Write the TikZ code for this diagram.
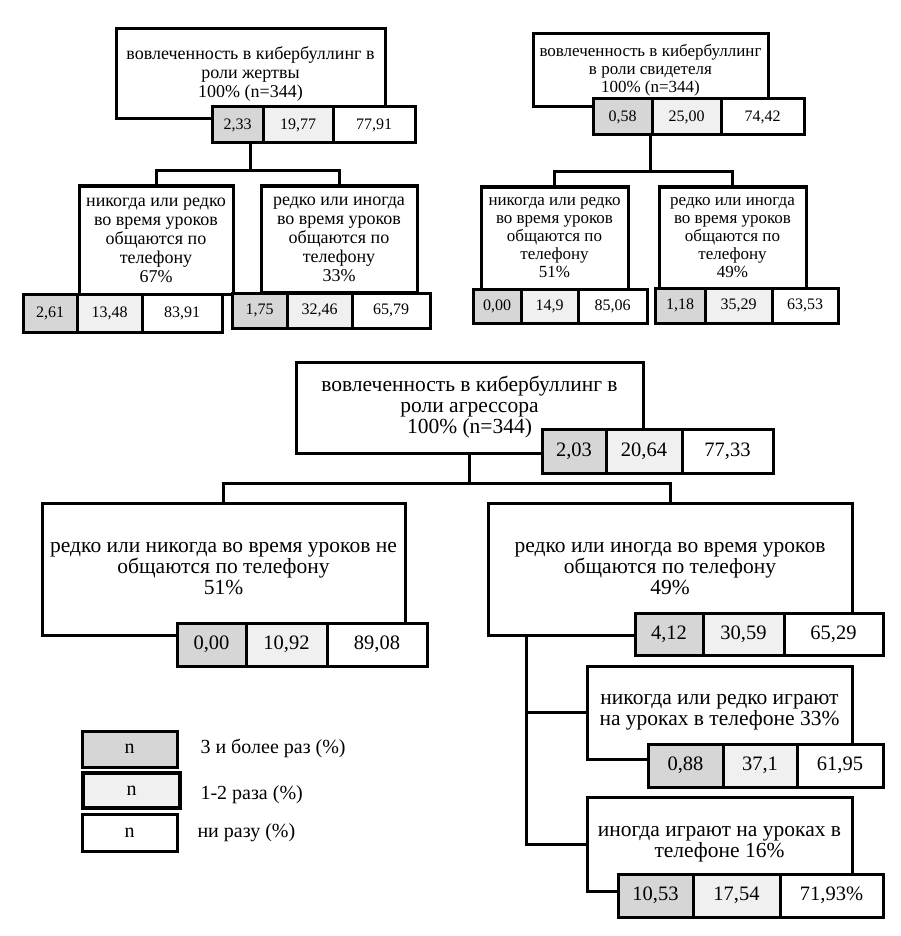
\documentclass[tikz,border=0pt]{standalone}
\usepackage{fontspec}
\setmainfont{Liberation Serif}
\usetikzlibrary{positioning}

\newcommand{\victimfont}{\fontsize{18}{19}\selectfont}
\newcommand{\witnessfont}{\fontsize{17}{18}\selectfont}
\newcommand{\aggrfont}{\fontsize{21.5}{21}\selectfont}
\newcommand{\smallnum}{\fontsize{16}{18}\selectfont}
\newcommand{\bignum}{\fontsize{20.5}{22}\selectfont}
\newcommand{\legendfont}{\fontsize{20}{22}\selectfont}

\begin{document}
\begin{tikzpicture}[
  x=1pt, y=-1pt,
  box/.style={draw, line width=3pt, fill=white, align=center, inner sep=1pt, outer sep=0pt},
  cell/.style={draw, line width=3pt, inner sep=0pt, outer sep=0pt},
  hi/.style={cell, fill=gray!32},
  mid/.style={cell, fill=gray!12},
  lo/.style={cell, fill=white},
  link/.style={line width=3pt}
]
\useasboundingbox (0,0) rectangle (900,936);

% victim tree
\node[box, font=\victimfont, anchor=north west, minimum width=269pt, minimum height=90pt] (vict) at (116,29)
  {вовлеченность в кибербуллинг в\\роли жертвы\\100\% (n=344)};
\node[hi, font=\smallnum, anchor=north west, minimum width=51pt, minimum height=36pt] (v0a) at (212,107) {2,33};
\node[mid, font=\smallnum, minimum width=70pt, minimum height=36pt, right=0pt of v0a] (v0b) {19,77};
\node[lo, font=\smallnum, minimum width=82pt, minimum height=36pt, right=0pt of v0b] (v0c) {77,91};

\node[box, font=\victimfont, anchor=north west, minimum width=154pt, minimum height=108pt] (v1) at (79,186)
  {никогда или редко\\во время уроков\\общаются по\\телефону\\67\%};
\node[box, font=\victimfont, anchor=north west, minimum width=156pt, minimum height=106pt] (v2) at (261,186)
  {редко или иногда\\во время уроков\\общаются по\\телефону\\33\%};
\node[hi, font=\smallnum, anchor=north west, minimum width=54pt, minimum height=38pt] (v1a) at (23,294) {2,61};
\node[mid, font=\smallnum, minimum width=65pt, minimum height=38pt, right=0pt of v1a] (v1b) {13,48};
\node[lo, font=\smallnum, minimum width=80pt, minimum height=38pt, right=0pt of v1b] (v1c) {83,91};
\node[hi, font=\smallnum, anchor=north west, minimum width=55pt, minimum height=35pt] (v2a) at (232,293) {1,75};
\node[mid, font=\smallnum, minimum width=65pt, minimum height=35pt, right=0pt of v2a] (v2b) {32,46};
\node[lo, font=\smallnum, minimum width=78pt, minimum height=35pt, right=0pt of v2b] (v2c) {65,79};

\draw[link] (v0a.south -| vict.south) -- ++(0,28) coordinate (vj) -| (v1.north);
\draw[link] (vj) -| (v2.north);

% witness tree
\node[box, font=\witnessfont, anchor=north west, minimum width=235pt, minimum height=73pt] (wit) at (533,34)
  {вовлеченность в кибербуллинг\\в роли свидетеля\\100\% (n=344)};
\node[hi, font=\smallnum, anchor=north west, minimum width=59pt, minimum height=36pt] (w0a) at (593,99) {0,58};
\node[mid, font=\smallnum, minimum width=69pt, minimum height=36pt, right=0pt of w0a] (w0b) {25,00};
\node[lo, font=\smallnum, minimum width=83pt, minimum height=36pt, right=0pt of w0b] (w0c) {74,42};

\node[box, font=\witnessfont, anchor=north west, minimum width=147pt, minimum height=102pt] (w1) at (481,187)
  {никогда или редко\\во время уроков\\общаются по\\телефону\\51\%};
\node[box, font=\witnessfont, anchor=north west, minimum width=147pt, minimum height=101pt] (w2) at (659,187)
  {редко или иногда\\во время уроков\\общаются по\\телефону\\49\%};
\node[hi, font=\smallnum, anchor=north west, minimum width=48pt, minimum height=34pt] (w1a) at (473,289) {0,00};
\node[mid, font=\smallnum, minimum width=57pt, minimum height=34pt, right=0pt of w1a] (w1b) {14,9};
\node[lo, font=\smallnum, minimum width=69pt, minimum height=34pt, right=0pt of w1b] (w1c) {85,06};
\node[hi, font=\smallnum, anchor=north west, minimum width=50pt, minimum height=35pt] (w2a) at (655,288) {1,18};
\node[mid, font=\smallnum, minimum width=67pt, minimum height=35pt, right=0pt of w2a] (w2b) {35,29};
\node[lo, font=\smallnum, minimum width=66pt, minimum height=35pt, right=0pt of w2b] (w2c) {63,53};

\draw[link] (w0a.south -| wit.south) -- ++(0,37) coordinate (wj) -| (w1.north);
\draw[link] (wj) -| (w2.north);

% aggressor tree
\node[box, font=\aggrfont, anchor=north west, minimum width=347pt, minimum height=91pt] (aggr) at (296,362)
  {вовлеченность в кибербуллинг в\\роли агрессора\\100\% (n=344)};
\node[hi, font=\bignum, anchor=north west, minimum width=64pt, minimum height=44pt] (a0a) at (542,429) {2,03};
\node[mid, font=\bignum, minimum width=76pt, minimum height=44pt, right=0pt of a0a] (a0b) {20,64};
\node[lo, font=\bignum, minimum width=91pt, minimum height=44pt, right=0pt of a0b] (a0c) {77,33};

\node[box, font=\aggrfont, anchor=north west, minimum width=363pt, minimum height=132pt] (a1) at (42,503)
  {редко или никогда во время уроков не\\общаются по телефону\\51\%};
\node[box, font=\aggrfont, anchor=north west, minimum width=364pt, minimum height=132pt] (a2) at (488,503)
  {редко или иногда во время уроков\\общаются по телефону\\49\%};
\node[hi, font=\bignum, anchor=north west, minimum width=69pt, minimum height=43pt] (a1a) at (177,623) {0,00};
\node[mid, font=\bignum, minimum width=81pt, minimum height=43pt, right=0pt of a1a] (a1b) {10,92};
\node[lo, font=\bignum, minimum width=100pt, minimum height=43pt, right=0pt of a1b] (a1c) {89,08};
\node[hi, font=\bignum, anchor=north west, minimum width=68pt, minimum height=42pt] (a2a) at (635,613) {4,12};
\node[mid, font=\bignum, minimum width=81pt, minimum height=42pt, right=0pt of a2a] (a2b) {30,59};
\node[lo, font=\bignum, minimum width=99pt, minimum height=42pt, right=0pt of a2b] (a2c) {65,29};

\node[box, font=\aggrfont, anchor=north west, minimum width=265pt, minimum height=93pt] (a21) at (587,666)
  {никогда или редко играют\\на уроках в телефоне 33\%};
\node[hi, font=\bignum, anchor=north west, minimum width=75pt, minimum height=43pt] (a21a) at (648,744) {0,88};
\node[mid, font=\bignum, minimum width=74pt, minimum height=43pt, right=0pt of a21a] (a21b) {37,1};
\node[lo, font=\bignum, minimum width=86pt, minimum height=43pt, right=0pt of a21b] (a21c) {61,95};
\node[box, font=\aggrfont, anchor=north west, minimum width=265pt, minimum height=94pt] (a22) at (587,797)
  {иногда играют на уроках в\\телефоне 16\%};
\node[hi, font=\bignum, anchor=north west, minimum width=75pt, minimum height=43pt] (a22a) at (618,874) {10,53};
\node[mid, font=\bignum, minimum width=87pt, minimum height=43pt, right=0pt of a22a] (a22b) {17,54};
\node[lo, font=\bignum, minimum width=103pt, minimum height=43pt, right=0pt of a22b] (a22c) {71,93\%};

\draw[link] (aggr.south) -- ++(0,30) coordinate (aj) -| (a1.north);
\draw[link] (aj) -| (a2.north);
\draw[link] (a2.south) ++(-144,0) coordinate (ab) |- (a22.west);
\draw[link] (ab) |- (a21.west);

% legend
\node[hi, font=\legendfont, anchor=north west, minimum width=95pt, minimum height=36pt] (lg1) at (82,731) {n};
\node[mid, font=\legendfont, line width=4pt, anchor=north west, minimum width=97pt, minimum height=35pt] (lg2) at (83,773) {n};
\node[lo, font=\legendfont, anchor=north west, minimum width=95pt, minimum height=37pt] (lg3) at (82,814) {n};
\node[font=\legendfont, anchor=west] (lt1) at (197,748) {3 и более раз (\%)};
\node[font=\legendfont, anchor=west] (lt2) at (197,795) {1-2 раза (\%)};
\node[font=\legendfont, anchor=west] (lt3) at (194,833) {ни разу (\%)};
\end{tikzpicture}
\end{document}
